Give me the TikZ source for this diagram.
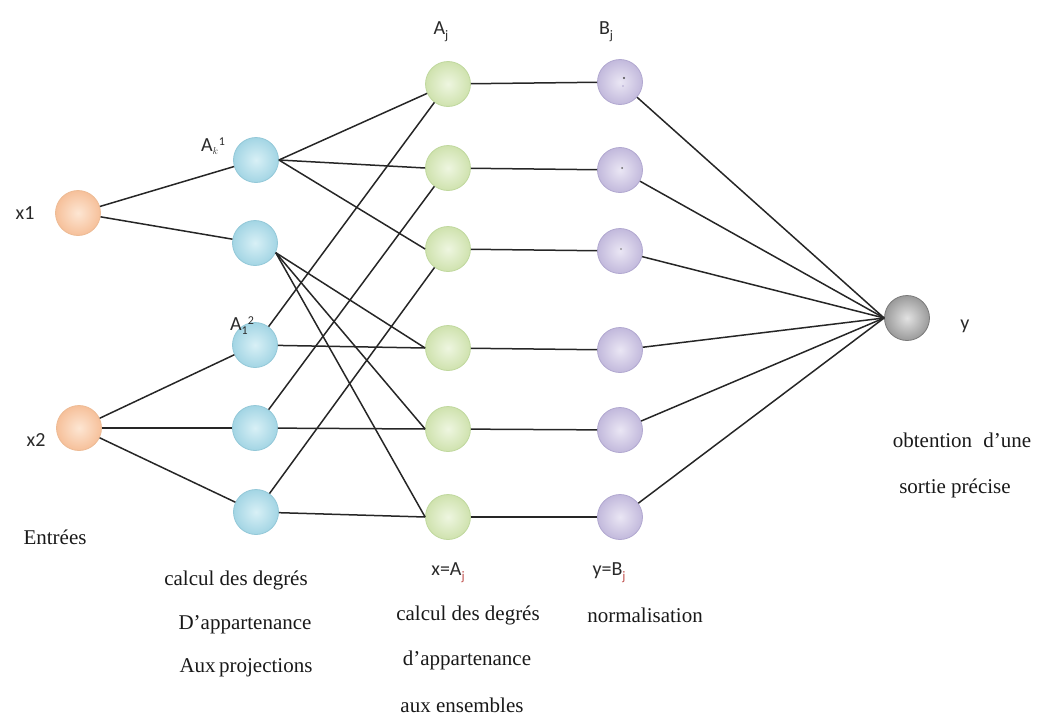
\documentclass[tikz,border=0pt]{standalone}
\usepackage{fontspec}
\setmainfont{Liberation Serif}
\newfontfamily\labfont{Carlito}
\definecolor{orangeI}{HTML}{FDE6D3}
\definecolor{orangeO}{HTML}{F6C09A}
\definecolor{orangeE}{HTML}{EDBB95}
\definecolor{blueI}{HTML}{D8F0F6}
\definecolor{blueO}{HTML}{A3D5E4}
\definecolor{blueE}{HTML}{93C8D8}
\definecolor{greenI}{HTML}{EEF6E0}
\definecolor{greenO}{HTML}{CFE2AE}
\definecolor{greenE}{HTML}{C0D89E}
\definecolor{purpleI}{HTML}{EAE6F4}
\definecolor{purpleO}{HTML}{C2B9DC}
\definecolor{purpleE}{HTML}{B1A8D0}
\definecolor{grayI}{HTML}{E2E2E2}
\definecolor{grayO}{HTML}{9A9A9A}
\definecolor{grayE}{HTML}{7A7A7A}
\definecolor{wireC}{HTML}{262626}
\definecolor{labC}{HTML}{2A2A2A}
\definecolor{subRed}{HTML}{C0504D}
\begin{document}
\begin{tikzpicture}[x=1pt,y=-1pt,
  neuron/.style={circle,minimum size=45pt,inner sep=0pt,line width=0.8pt},
  inpnode/.style={neuron,draw=orangeE,inner color=orangeI,outer color=orangeO},
  projnode/.style={neuron,draw=blueE,inner color=blueI,outer color=blueO},
  setnode/.style={neuron,draw=greenE,inner color=greenI,outer color=greenO},
  normnode/.style={neuron,draw=purpleE,inner color=purpleI,outer color=purpleO},
  outnode/.style={neuron,draw=grayE,inner color=grayI,outer color=grayO},
  wire/.style={draw=wireC,line width=1.5pt},
  serif/.style={font=\fontsize{21}{25}\selectfont,text=black!90,inner sep=0pt},
  lab/.style={font=\labfont\fontsize{20}{23}\selectfont,text=labC,inner sep=0pt}
]
\useasboundingbox (0,0) rectangle (1045,728);

% input layer
\node[inpnode] (x1) at (78,213) {};
\node[inpnode] (x2) at (79,428) {};

% membership degrees on the projections
\node[projnode] (b1) at (256,160) {};
\node[projnode] (b2) at (255,243) {};
\node[projnode] (b3) at (255,345) {};
\node[projnode] (b4) at (255,428) {};
\node[projnode] (b5) at (256,512) {};

% membership degrees on the sets
\node[setnode] (g1) at (448,84) {};
\node[setnode] (g2) at (448,168) {};
\node[setnode] (g3) at (448,249) {};
\node[setnode] (g4) at (448,348) {};
\node[setnode] (g5) at (448,429) {};
\node[setnode] (g6) at (448,517) {};

% normalisation
\node[normnode] (p1) at (620,82) {};
\node[normnode] (p2) at (620,170) {};
\node[normnode] (p3) at (620,251) {};
\node[normnode] (p4) at (620,350) {};
\node[normnode] (p5) at (620,430) {};
\node[normnode] (p6) at (620,517) {};
\fill[black!70] (624,78) circle (1.1pt);
\fill[purpleE] (623,86) circle (0.9pt);
\fill[black!60] (622,168) circle (1pt);
\fill[black!55] (621,249) circle (0.9pt);

% output
\node[outnode] (out) at (907,318) {};

% connections
\draw[wire] (x1) -- (b1);
\draw[wire] (x1) -- (b2);
\draw[wire] (x2) -- (b3);
\draw[wire] (x2) -- (b4);
\draw[wire] (x2) -- (b5);

\draw[wire] (b1.east) -- (g1);
\draw[wire] (b1.east) -- (g2.west);
\draw[wire] (b1.east) -- (g3.west);
\draw[wire] (b2.-25) -- (g4.west);
\draw[wire] (b2.-25) -- (g5.west);
\draw[wire] (b2.-25) -- (g6.west);
\draw[wire] (b3) -- (g1);
\draw[wire] (b3) -- (g4.west);
\draw[wire] (b4) -- (g2);
\draw[wire] (b4) -- (g5.west);
\draw[wire] (b5) -- (g3);
\draw[wire] (b5) -- (g6.west);

\foreach \i in {1,...,6} {
  \draw[wire] (g\i) -- (p\i);
  \draw[wire] (p\i) -- (out.west);
}

% labels
\node[lab] (lx1) at (25,213) {x1};
\node[lab] (lx2) at (36,440) {x2};
\node[serif] (lin) at (55,537) {Entrées};
\node[lab,anchor=south] (lak) at (213,155) {A$_{\scriptscriptstyle k}$\raisebox{0.6ex}{\fontsize{12}{12}\selectfont 1}};
\node[lab,anchor=south] (la1) at (242,335) {A\raisebox{-0.5ex}{\fontsize{12}{12}\selectfont 1}\raisebox{0.6ex}{\fontsize{12}{12}\selectfont 2}};
\node[lab] (laj) at (441,32) {A\raisebox{-0.5ex}{\fontsize{13}{13}\selectfont j}};
\node[lab] (lbj) at (606,32) {B\raisebox{-0.5ex}{\fontsize{13}{13}\selectfont j}};
\node[lab] (ly) at (965,326) {y};
\node[serif] (lo1) at (962,440) {obtention\; d’une};
\node[serif] (lo2) at (955,488) {sortie précise};

\node[serif] (c1) at (236,580) {calcul des degrés};
\node[serif] (c2) at (245,625) {D’appartenance};
\node[serif] (c3) at (246,668) {Aux\,projections};
\node[lab] (xa) at (448,573) {x=A\raisebox{-0.5ex}{\fontsize{13}{13}\selectfont\color{subRed}j}};
\node[serif] (d1) at (468,615) {calcul des degrés};
\node[serif] (d2) at (467,660) {d’appartenance};
\node[serif] (d3) at (462,705) {aux ensembles};
\node[lab] (yb) at (609,573) {y=B\raisebox{-0.5ex}{\fontsize{13}{13}\selectfont\color{subRed}j}};
\node[serif] (nm) at (645,615) {normalisation};
\end{tikzpicture}
\end{document}
